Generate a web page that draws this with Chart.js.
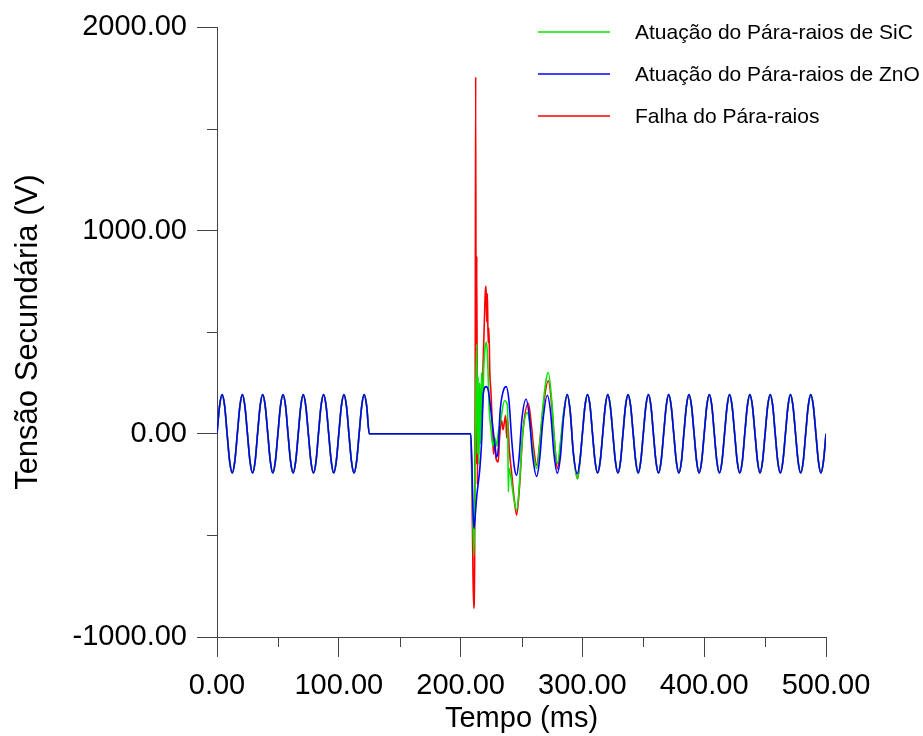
<!DOCTYPE html>
<html>
<head>
<meta charset="utf-8">
<script src="https://cdn.jsdelivr.net/npm/chart.js@4/dist/chart.umd.min.js"></script>
<style>
  body { margin: 0; background: #fff; }
</style>
</head>
<body>
<canvas id="chart" width="923" height="736"></canvas>
<script>
// series names (legend order)
const seriesNames = ["Atuação do Pára-raios de SiC", "Atuação do Pára-raios de ZnO", "Falha do Pára-raios"];

// axis ticks
const xMajor = [0, 100, 200, 300, 400, 500];
const xMinor = [50, 150, 250, 350, 450];
const yMajor = [-1000, 0, 1000, 2000];
const yMinor = [-500, 500, 1500];

// pre-fault 60 Hz wave, common to all three curves (ms, V)
const preTime = [
    0, 2.1, 4.2, 6.3, 8.3, 10.4, 12.5, 14.6,
    16.7, 18.8, 20.8, 22.9, 25.0, 27.1, 29.2, 31.3,
    33.3, 35.4, 37.5, 39.6, 41.7, 43.8, 45.8, 47.9,
    50.0, 52.1, 54.2, 56.3, 58.3, 60.4, 62.5, 64.6,
    66.7, 68.8, 70.8, 72.9, 75.0, 77.1, 79.2, 81.3,
    83.3, 85.4, 87.5, 89.6, 91.7, 93.8, 95.8, 97.9,
    100.0, 102.1, 104.2, 106.3, 108.3, 110.4, 112.5, 114.6,
    116.7, 118.8, 120.8, 122.9, 125.0
];
const preVolt = [
    0, 136, 193, 136, 0, -136, -193, -136,
    0, 136, 193, 136, 0, -136, -193, -136,
    0, 136, 193, 136, 0, -136, -193, -136,
    0, 136, 193, 136, 0, -136, -193, -136,
    0, 136, 193, 136, 0, -136, -193, -136,
    0, 136, 193, 136, 0, -136, -193, -136,
    0, 136, 193, 136, 0, -136, -193, -136,
    0, 136, 193, 136, 0
];

// transient, SiC arrester (green)
const sicTime = [208.3, 209.5, 211.0, 211.8, 212.5, 213.2, 213.8, 214.4, 215.0, 215.7, 216.4, 217.2, 218.0, 219.0, 220.2, 221.4, 222.4, 223.5, 225.0, 226.5, 228.0, 229.5, 231.0, 233.0, 236.0, 238.5, 239.2, 239.7, 241.0, 243.0, 246.0, 248.5, 251.0, 254.8, 257.0, 259.5, 262.5, 265.0, 268.0, 272.0, 275.0, 277.0, 279.5, 282.0, 284.5, 287.5, 290.0, 292.5, 296.0, 297.9];
const sicVolt = [0, -250, -597, -300, 200, 441, -100, 280, -150, 250, -50, 300, 100, 320, 430, 450, 330, 120, 20, -60, -20, -60, 10, 70, 163, 140, -286, -170, -200, -290, -376, -230, 0, 104, 40, -90, -170, -50, 160, 302, 150, -30, -147, -40, 100, 193, 110, -90, -221, -140];

// transient, ZnO arrester (blue)
const znoTime = [208.3, 209.3, 210.2, 211.0, 211.8, 213.2, 215.9, 217.3, 218.6, 220.9, 222.8, 225.5, 227.7, 229.5, 231.0, 232.3, 235.1, 237.4, 239.7, 242.0, 244.0, 246.0, 248.0, 250.2, 253.8, 256.5, 259.0, 262.5, 265.0, 267.5, 271.2, 274.0, 276.5, 279.4, 282.0, 284.5, 287.5, 290.0, 292.5, 295.8, 297.9];
const znoVolt = [0, -150, -380, -466, -420, -311, -164, -33, 196, 232, 212, 82, -33, -115, -70, 98, 212, 232, 163, -33, -160, -204, -120, 65, 170, 80, -100, -210, -120, 60, 190, 100, -90, -194, -110, 80, 193, 110, -90, -196, -136];

// transient, arrester failure (red)
const falhaTime = [208.3, 209.3, 210.2, 210.8, 211.5, 212.0, 212.4, 212.8, 213.3, 213.8, 214.3, 214.8, 215.4, 216.0, 216.8, 217.5, 218.5, 219.5, 220.3, 220.9, 221.5, 222.0, 222.6, 223.2, 224.0, 225.0, 226.0, 227.0, 228.0, 229.0, 230.9, 232.0, 233.7, 234.8, 236.0, 237.0, 237.8, 238.5, 240.0, 242.0, 244.0, 246.0, 248.5, 251.0, 255.6, 258.0, 260.0, 262.5, 265.0, 268.0, 272.0, 275.0, 277.0, 279.5, 282.0, 284.5, 287.5, 290.0, 292.5, 296.0, 297.9];
const falhaVolt = [0, -250, -700, -858, -650, 300, 1756, -150, 873, -250, 200, -100, 250, 0, 180, 100, 350, 550, 700, 727, 550, 690, 450, 520, 300, 197, 50, -100, -30, -120, -139, -20, 65, 20, 60, 90, -20, 70, -80, -200, -320, -400, -250, 0, 150, 50, -70, -155, -40, 140, 261, 130, -30, -172, -60, 90, 193, 110, -90, -221, -140];

// post-fault 60 Hz wave, common to all three curves
const postTime = [
    300.0, 302.1, 304.2, 306.3, 308.3, 310.4, 312.5, 314.6,
    316.7, 318.8, 320.8, 322.9, 325.0, 327.1, 329.2, 331.3,
    333.3, 335.4, 337.5, 339.6, 341.7, 343.8, 345.8, 347.9,
    350.0, 352.1, 354.2, 356.3, 358.3, 360.4, 362.5, 364.6,
    366.7, 368.8, 370.8, 372.9, 375.0, 377.1, 379.2, 381.3,
    383.3, 385.4, 387.5, 389.6, 391.7, 393.8, 395.8, 397.9,
    400.0, 402.1, 404.2, 406.3, 408.3, 410.4, 412.5, 414.6,
    416.7, 418.8, 420.8, 422.9, 425.0, 427.1, 429.2, 431.3,
    433.3, 435.4, 437.5, 439.6, 441.7, 443.8, 445.8, 447.9,
    450.0, 452.1, 454.2, 456.3, 458.3, 460.4, 462.5, 464.6,
    466.7, 468.8, 470.8, 472.9, 475.0, 477.1, 479.2, 481.3,
    483.3, 485.4, 487.5, 489.6, 491.7, 493.8, 495.8, 497.9,
    500.0
];
const postVolt = [
    0, 136, 193, 136, 0, -136, -193, -136,
    0, 136, 193, 136, 0, -136, -193, -136,
    0, 136, 193, 136, 0, -136, -193, -136,
    0, 136, 193, 136, 0, -136, -193, -136,
    0, 136, 193, 136, 0, -136, -193, -136,
    0, 136, 193, 136, 0, -136, -193, -136,
    0, 136, 193, 136, 0, -136, -193, -136,
    0, 136, 193, 136, 0, -136, -193, -136,
    0, 136, 193, 136, 0, -136, -193, -136,
    0, 136, 193, 136, 0, -136, -193, -136,
    0, 136, 193, 136, 0, -136, -193, -136,
    0, 136, 193, 136, 0, -136, -193, -136,
    0
];

const colors = ["#00e600", "#0000ff", "#ff0000"];
const axisColor = "#444";
const font = { family: "'Liberation Sans', Arial, sans-serif", size: 29 };
const yTitleFont = { family: "'Liberation Sans', Arial, sans-serif", size: 31 };

const toPoints = (t, v) => t.map((x, i) => ({ x: x, y: v[i] }));
const wave = (t, v) => [...toPoints(preTime, preVolt), ...toPoints(t, v), ...toPoints(postTime, postVolt)];

// minor ticks + legend drawn by hand
const decor = {
    id: "decor",
    afterDraw(chart) {
        const { ctx, chartArea } = chart;
        const x = chart.scales.x, y = chart.scales.y;
        ctx.save();
        ctx.strokeStyle = axisColor;
        ctx.lineWidth = 1;
        xMinor.forEach(v => {
            const px = Math.round(x.getPixelForValue(v)) + 0.5;
            ctx.beginPath();
            ctx.moveTo(px, chartArea.bottom);
            ctx.lineTo(px, chartArea.bottom + 10);
            ctx.stroke();
        });
        yMinor.forEach(v => {
            const py = Math.round(y.getPixelForValue(v)) + 0.5;
            ctx.beginPath();
            ctx.moveTo(chartArea.left, py);
            ctx.lineTo(chartArea.left - 10, py);
            ctx.stroke();
        });

        ctx.font = "21px 'Liberation Sans', Arial, sans-serif";
        ctx.textBaseline = "middle";
        ctx.fillStyle = "#000";
        seriesNames.forEach((name, i) => {
            const ly = 32 + i * 42;
            ctx.strokeStyle = colors[i];
            ctx.lineWidth = 1.5;
            ctx.beginPath();
            ctx.moveTo(538, ly);
            ctx.lineTo(610, ly);
            ctx.stroke();
            ctx.fillText(name, 635, ly + 1);
        });
        ctx.restore();
    }
};

new Chart(document.getElementById("chart"), {
    type: "line",
    data: {
        datasets: [
            { label: seriesNames[0], data: wave(sicTime, sicVolt), borderColor: colors[0], order: 1 },
            { label: seriesNames[1], data: wave(znoTime, znoVolt), borderColor: colors[1], order: 0 },
            { label: seriesNames[2], data: wave(falhaTime, falhaVolt), borderColor: colors[2], order: 2 },
        ],
    },
    options: {
        responsive: false,
        animation: false,
        devicePixelRatio: 1,
        layout: { padding: { top: 25, right: 97, bottom: 0, left: 0 } },
        elements: {
            line: { borderWidth: 1.6, cubicInterpolationMode: "monotone", fill: false },
            point: { radius: 0 },
        },
        plugins: { legend: { display: false }, tooltip: { enabled: false } },
        scales: {
            x: {
                type: "linear",
                min: 0,
                max: 500,
                afterBuildTicks: s => { s.ticks = xMajor.map(v => ({ value: v })); },
                afterFit: s => { s.height = 99; },
                ticks: { callback: v => v.toFixed(2), font: font, color: "#000", padding: 12, maxRotation: 0, autoSkip: false },
                grid: { drawOnChartArea: false, tickLength: 20, tickColor: axisColor, tickWidth: 1 },
                border: { color: axisColor, width: 1 },
                title: { display: true, text: "Tempo (ms)", font: font, color: "#000", padding: 0 },
            },
            y: {
                min: -1000,
                max: 2000,
                afterBuildTicks: s => { s.ticks = yMajor.map(v => ({ value: v })); },
                afterFit: s => { s.width = 217; },
                ticks: { callback: v => v.toFixed(2), font: font, color: "#000", padding: 10, autoSkip: false },
                grid: { drawOnChartArea: false, tickLength: 20, tickColor: axisColor, tickWidth: 1 },
                border: { color: axisColor, width: 1 },
                title: { display: true, text: "Tensão Secundária (V)", font: yTitleFont, color: "#000", padding: { top: 10, bottom: 0 } },
            },
        },
    },
    plugins: [decor],
});
</script>
</body>
</html>
